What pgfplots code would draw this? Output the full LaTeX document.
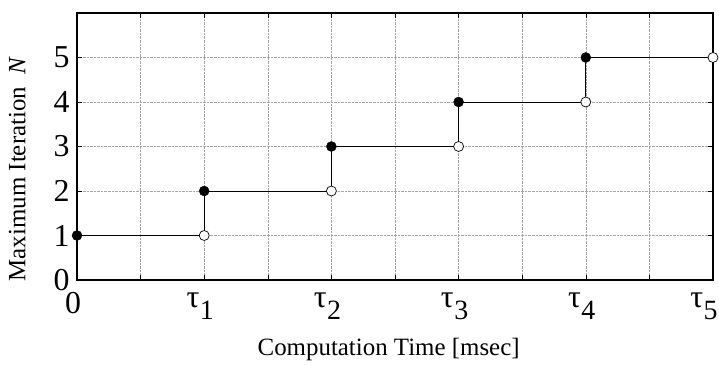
\documentclass[border=0pt]{standalone}
\usepackage{pgfplots}
\pgfplotsset{compat=1.18}
\usepackage{fontspec}
\setmainfont{Liberation Serif}
\newcommand\tl[1]{\raisebox{12bp}{τ}\kern0.5bp{\fontsize{28}{28}\selectfont #1}}
\begin{document}
\begin{tikzpicture}
\begin{axis}[
  name=ax,
  scale only axis,
  width=636bp, height=267bp,
  xmin=0, xmax=5, ymin=0, ymax=6,
  xtick={0,1,2,3,4,5},
  xticklabels={0,\tl{1},\tl{2},\tl{3},\tl{4},\kern-10bp\tl{5}},
  minor x tick num=1,
  ytick={0,1,2,3,4,5},
  /pgf/number format/assume math mode=true,
  grid=both,
  major grid style={densely dotted, gray!70, line width=0.5pt},
  minor grid style={densely dotted, gray!70, line width=0.5pt},
  tick align=inside,
  major tick length=5bp,
  minor tick length=5bp,
  tick style={black, line width=0.6pt},
  axis line style={line width=1.2pt},
  ticklabel style={font=\fontsize{32}{32}\selectfont},
  xticklabel style={yshift=-9bp, xshift=-4bp},
  yticklabel style={xshift=-4bp},
  xlabel={Computation Time [msec]},
  ylabel={Maximum Iteration\ \ \textit{N}},
  xlabel style={font=\fontsize{25}{25}\selectfont, at={(rel axis cs:0.49,-0.262)}, anchor=center},
  ylabel style={font=\fontsize{25}{25}\selectfont, at={(rel axis cs:-0.094,0.416)}, anchor=center, rotate=0},
  clip=false,
]
\addplot[black, line width=0.9pt, const plot, mark=none] coordinates {
  (0,1) (1,2) (2,3) (3,4) (4,5) (5,5)
};
\addplot[black, line width=0.9pt] coordinates {(1,1) (1,2)};
\addplot[only marks, mark=*, mark size=5bp, mark options={fill=black, draw=black}] coordinates {
  (0,1) (1,2) (2,3) (3,4) (4,5)
};
\addplot[only marks, mark=*, mark size=5bp, mark options={fill=white, draw=black, line width=0.7pt}] coordinates {
  (1,1) (2,2) (3,3) (4,4) (5,5)
};
\end{axis}
\pgfresetboundingbox
\path[use as bounding box] (ax.south west) ++(-77bp,-85bp) rectangle ([xshift=6bp,yshift=13bp]ax.north east);
\end{tikzpicture}
\end{document}
